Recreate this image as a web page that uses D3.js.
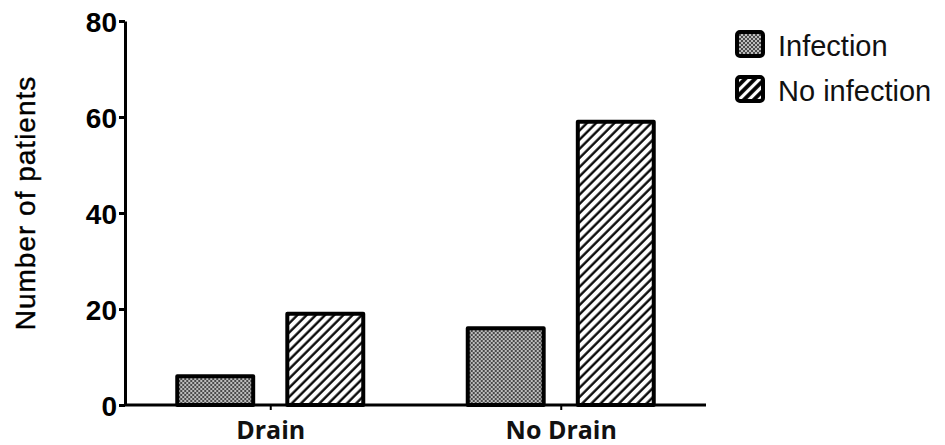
<!DOCTYPE html>
<html>
<head>
<meta charset="utf-8">
<script src="https://cdn.jsdelivr.net/npm/d3@7"></script>
<style>
  html, body { margin: 0; padding: 0; background: #fff; }
  svg { display: block; }
</style>
</head>
<body>
<svg id="chart" width="945" height="445"></svg>
<script>
const categories = ["Drain", "No Drain"];
const seriesNames = ["Infection", "No infection"];
const infectionValues = [6, 16];
const noInfectionValues = [19, 59];
const yTicks = [0, 20, 40, 60, 80];
const yLabel = "Number of patients";

const svg = d3.select("#chart");
const defs = svg.append("defs");

// checker pattern
const chk = defs.append("pattern").attr("id", "checker")
  .attr("patternUnits", "userSpaceOnUse").attr("width", 4).attr("height", 4);
chk.append("rect").attr("width", 4).attr("height", 4).attr("fill", "#bdbdbd");
chk.append("rect").attr("width", 2).attr("height", 2).attr("fill", "#4a4a4a");
chk.append("rect").attr("x", 2).attr("y", 2).attr("width", 2).attr("height", 2).attr("fill", "#4a4a4a");

// hatch pattern for bars
const hat = defs.append("pattern").attr("id", "hatch")
  .attr("patternUnits", "userSpaceOnUse").attr("width", 6.5).attr("height", 6.5)
  .attr("patternTransform", "rotate(45)");
hat.append("rect").attr("width", 6.5).attr("height", 6.5).attr("fill", "#fff");
hat.append("line").attr("x1", 1.5).attr("y1", -1).attr("x2", 1.5).attr("y2", 8)
  .attr("stroke", "#000").attr("stroke-width", 2.3);

// legend hatch (white on black)
const lhat = defs.append("pattern").attr("id", "lhatch")
  .attr("patternUnits", "userSpaceOnUse").attr("width", 7).attr("height", 7)
  .attr("patternTransform", "rotate(45)");
lhat.append("rect").attr("width", 7).attr("height", 7).attr("fill", "#000");
lhat.append("line").attr("x1", 3.5).attr("y1", -1).attr("x2", 3.5).attr("y2", 8)
  .attr("stroke", "#fff").attr("stroke-width", 3.2);

const fills = ["url(#checker)", "url(#hatch)"];
const legendFills = ["url(#checker)", "url(#lhatch)"];

const x0 = d3.scalePoint().domain(categories).range([125, 706]).padding(0.5);
const x1 = d3.scaleBand().domain(seriesNames).range([-93, 93]).paddingInner(0.31);
const y = d3.scaleLinear().domain([0, 80]).range([405, 21]);

const data = categories.map((c, i) => ({
  cat: c,
  vals: [
    { s: seriesNames[0], v: infectionValues[i] },
    { s: seriesNames[1], v: noInfectionValues[i] }
  ]
}));

// bars
const groups = svg.append("g").selectAll("g").data(data).join("g")
  .attr("transform", d => `translate(${x0(d.cat)},0)`);
groups.selectAll("rect").data(d => d.vals).join("rect")
  .attr("x", d => x1(d.s))
  .attr("width", x1.bandwidth())
  .attr("y", d => y(d.v))
  .attr("height", d => y(0) - y(d.v))
  .attr("fill", (d, i) => fills[i])
  .attr("stroke", "#000")
  .attr("stroke-width", 4)
  .attr("stroke-linejoin", "round");

// y axis
const yAxis = svg.append("g").attr("transform", "translate(125,0)")
  .call(d3.axisLeft(y).tickValues(yTicks).tickSize(6).tickSizeOuter(0).tickPadding(2));
yAxis.select(".domain").attr("stroke", "#000").attr("stroke-width", 3);
yAxis.selectAll(".tick line").attr("stroke", "#000").attr("stroke-width", 3);
yAxis.selectAll(".tick text")
  .attr("font-family", "Liberation Sans, Arial, sans-serif")
  .attr("font-weight", "bold").attr("font-size", 28).attr("fill", "#000")
  .attr("dy", "0.36em");

// x axis
const xAxis = svg.append("g").attr("transform", "translate(0,405)")
  .call(d3.axisBottom(x0).tickSize(5).tickSizeOuter(0).tickPadding(10));
xAxis.select(".domain").attr("stroke", "#000").attr("stroke-width", 3)
  .attr("d", "M125,0H706");
xAxis.selectAll(".tick line").attr("stroke", "#000").attr("stroke-width", 2);
xAxis.selectAll(".tick text")
  .attr("font-family", "Open Sans, sans-serif")
  .attr("font-weight", "bold").attr("font-size", 25).attr("fill", "#111")
  .attr("dy", "0")
  .attr("y", 34);

// y label
svg.append("text")
  .attr("transform", "translate(35,203) rotate(-90)")
  .attr("text-anchor", "middle")
  .attr("font-family", "Liberation Sans, Arial, sans-serif")
  .attr("font-size", 28)
  .attr("letter-spacing", 1)
  .attr("fill", "#000")
  .attr("stroke", "#000").attr("stroke-width", 0.4)
  .text(yLabel);

// legend
const legend = svg.append("g").selectAll("g").data(seriesNames).join("g")
  .attr("transform", (d, i) => `translate(737,${32 + i * 45})`);
legend.append("rect")
  .attr("width", 26).attr("height", 24).attr("rx", 3)
  .attr("fill", (d, i) => legendFills[i])
  .attr("stroke", "#000").attr("stroke-width", 4);
legend.append("text")
  .attr("x", 41).attr("y", 24)
  .attr("font-family", "Liberation Sans, Arial, sans-serif")
  .attr("font-size", 29).attr("fill", "#111")
  .text(d => d);
</script>
</body>
</html>
